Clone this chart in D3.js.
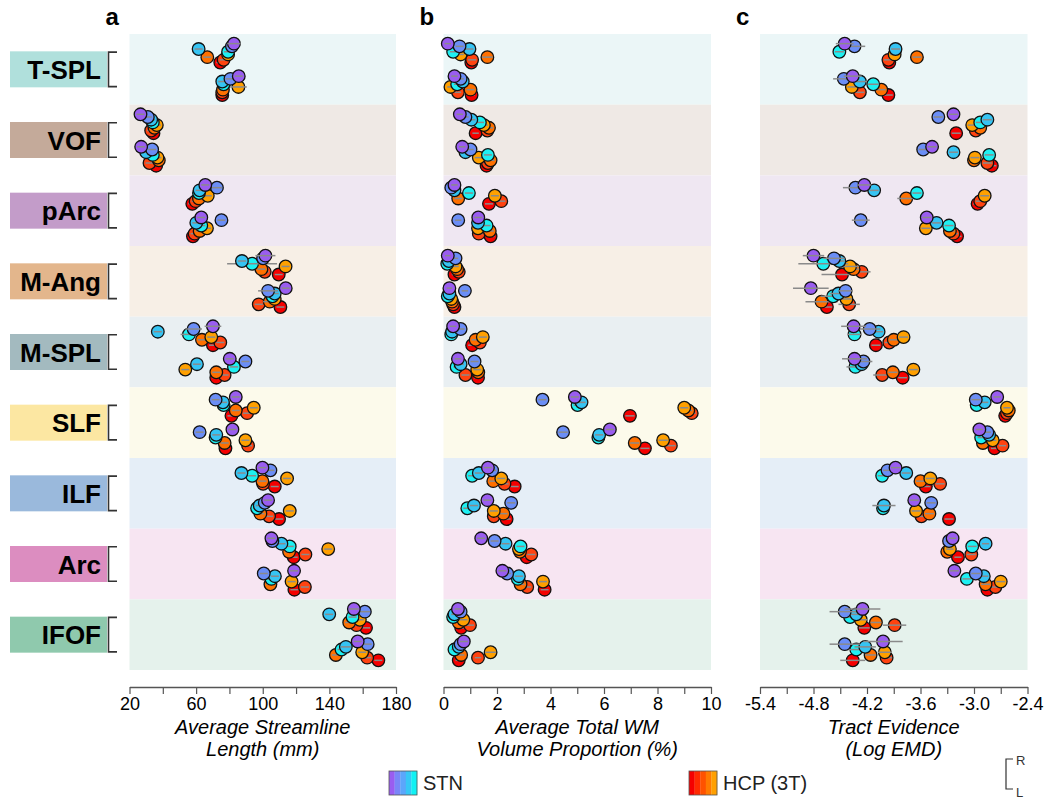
<!DOCTYPE html>
<html><head><meta charset="utf-8">
<script src="https://cdn.jsdelivr.net/npm/d3@7"></script>
<style>body{margin:0;background:#fff}svg{display:block}</style>
</head><body><svg id="chart" width="1044" height="801"></svg>
<script>
// ---------------- DATA ----------------
const tracts = ["T-SPL","VOF","pArc","M-Ang","M-SPL","SLF","ILF","Arc","IFOF"];
const subjects = ["STN-1","STN-2","STN-3","STN-4","HCP-1","HCP-2","HCP-3","HCP-4"];
const hemispheres = ["R","L"];

// a: Average streamline length (mm)
const lengthR = [
  [82.7,81.5,61.5,79.2,79.2,66.7,76.5,74.5],
  [26.6,31,33,34,36.4,35,33,34.4],
  [65.5,72.5,62.1,61.7,67,61.7,59.7,57.7],
  [101.6,100.2,87.5,93.6,113.7,99.2,101.2,109.6],
  [70.1,58.5,37,55.7,69.1,63.5,74.5,70.1],
  [83.8,71.7,76.1,76.5,94.6,83.8,90.6,81.2],
  [99.8,104.6,87.2,93.6,114.6,99.8,100.2,107.2],
  [105.2,105.8,111.2,116.2,139.3,115.8,125.6,118.6],
  [154.7,161.3,139.9,153.9,158.3,151.9,156.3,162]
];
const lengthL = [
  [85.6,80.6,75.7,76.5,85.4,76.1,75.7,75.7],
  [27,33.6,30,34,36.8,37.6,32,36],
  [63.1,75.2,60.1,63.1,66.5,62.1,59.1,58.1],
  [113.8,103.2,107.2,105.8,107.2,104.2,97.6,110.6],
  [80.2,89.6,60.5,82.7,53.5,72.1,77.1,72.1],
  [81.8,62.1,72.1,71.7,89.6,77.1,91.2,77.6],
  [103.2,101.2,98.2,96.6,116.2,98.6,103.8,109.8],
  [118.8,100.6,107.3,105.2,117.3,104.6,125.3,119],
  [157,163,149.9,147.3,159.7,143.9,162.7,169.4]
];
const lengthErrR = [
  [4,3,2.4,2.4,2.4,2.4,2.4,2.4],
  [2.4,2.4,2.4,2.4,2.4,2.4,2.4,2.4],
  [2.4,3,2.4,2.4,2.4,2.4,2.4,2.4],
  [6,2.4,2.4,15,2.4,2.4,2.4,2.4],
  [5,5,2.4,5,2.4,2.4,2.4,2.4],
  [2.4,2.4,2.4,2.4,2.4,2.4,2.4,2.4],
  [2.4,2.4,2.4,2.4,2.4,2.4,2.4,2.4],
  [2.4,2.4,2.4,2.4,2.4,2.4,2.4,2.4],
  [3,3,2.4,2.4,2.4,2.4,2.4,2.4]
];
const lengthErrL = [
  [2.4,3,2.4,2.4,5,2.4,2.4,2.4],
  [2.4,2.4,2.4,2.4,2.4,2.4,2.4,2.4],
  [2.4,2.4,2.4,2.4,2.4,2.4,2.4,2.4],
  [2.4,6,2.4,2.4,2.4,4,2.4,2.4],
  [2.4,2.4,2.4,2.4,2.4,2.4,2.4,2.4],
  [2.4,2.4,2.4,2.4,2.4,2.4,2.4,2.4],
  [2.4,2.4,2.4,2.4,2.4,2.4,2.4,2.4],
  [2.4,2.4,2.4,2.4,2.4,2.4,2.4,2.4],
  [2.4,2.4,3,2.4,2.4,2.4,2.4,2.4]
];

// b: Average total WM volume proportion (%)
const volumeR = [
  [0.16,0.6,0.97,0.36,0.64,1.64,1.07,1.04],
  [0.61,0.82,1.04,1.36,1.51,1.7,1.64,1.2],
  [0.41,0.29,0.41,0.95,1.92,0.55,2.16,1.7],
  [0.16,0.45,0.2,0.14,0.45,0.51,0.57,0.41],
  [0.36,0.64,0.32,0.29,1.47,1.2,1.36,1.07],
  [4.91,3.7,5.16,5.01,9.0,9.15,9.28,6.97],
  [1.66,1.82,1.32,1.07,2.16,1.86,2.28,2.66],
  [1.41,1.91,2.32,2.88,2.82,2.86,3.28,3.11],
  [0.54,0.64,0.41,0.36,0.74,0.57,0.99,0.66]
];
const volumeL = [
  [0.41,0.64,0.72,0.51,0.26,1.01,0.54,1.05],
  [0.7,1.01,0.82,1.66,1.32,1.76,1.66,1.61],
  [1.3,0.55,1.29,1.61,1.29,1.73,1.32,1.76],
  [0.22,0.8,0.22,0.16,0.29,0.32,0.36,0.41],
  [0.54,1.16,0.64,0.49,1.26,1.3,0.82,1.29],
  [6.22,4.47,5.82,5.79,8.21,7.15,8.5,7.53],
  [1.64,2.53,1.14,0.89,1.88,2.24,1.88,2.36],
  [2.2,2.38,2.82,2.78,3.72,2.88,3.13,3.78],
  [0.76,0.64,0.57,0.41,1.76,0.66,1.29,0.57]
];
const volumeErrR = [
  [0.12,0.15,0.15,0.12,0.12,0.2,0.15,0.12],
  [0.12,0.12,0.15,0.15,0.15,0.15,0.12,0.12],
  [0.12,0.12,0.12,0.15,0.15,0.15,0.15,0.15],
  [0.1,0.1,0.1,0.1,0.12,0.12,0.12,0.1],
  [0.12,0.15,0.12,0.12,0.15,0.15,0.15,0.15],
  [0.15,0.15,0.15,0.15,0.15,0.15,0.15,0.17],
  [0.15,0.15,0.15,0.15,0.15,0.15,0.15,0.15],
  [0.15,0.15,0.15,0.15,0.15,0.15,0.15,0.15],
  [0.12,0.12,0.12,0.12,0.15,0.12,0.15,0.12]
];
const volumeErrL = [
  [0.12,0.12,0.15,0.12,0.12,0.15,0.12,0.12],
  [0.12,0.12,0.12,0.15,0.15,0.15,0.15,0.12],
  [0.15,0.12,0.15,0.15,0.15,0.15,0.15,0.15],
  [0.1,0.12,0.1,0.1,0.1,0.1,0.1,0.1],
  [0.12,0.15,0.12,0.12,0.15,0.15,0.15,0.15],
  [0.15,0.17,0.15,0.17,0.17,0.17,0.17,0.17],
  [0.15,0.15,0.15,0.15,0.15,0.15,0.15,0.15],
  [0.15,0.15,0.15,0.15,0.15,0.15,0.15,0.15],
  [0.15,0.12,0.12,0.12,0.2,0.12,0.12,0.12]
];

// c: Tract evidence (log EMD)
const evidenceR = [
  [-4.45,-4.34,-3.88,-4.51,-3.89,-3.64,-3.96,-3.95],
  [-3.23,-3.4,-2.85,-2.93,-3.02,-2.93,-2.98,-3.2],
  [-4.23,-4.33,-4.12,-3.64,-2.88,-3.76,-2.93,-2.96],
  [-4.8,-4.57,-4.51,-4.69,-4.39,-4.35,-4.26,-4.48],
  [-4.35,-4.17,-4.07,-4.34,-3.79,-3.9,-3.95,-4.1],
  [-2.74,-2.98,-2.88,-2.97,-2.63,-2.61,-2.63,-2.65],
  [-3.88,-3.97,-3.76,-4.03,-3.49,-3.6,-3.38,-3.54],
  [-3.24,-3.28,-2.87,-3.02,-3.27,-3.3,-3.03,-3.18],
  [-4.25,-4.45,-4.32,-4.39,-4.27,-4.1,-3.89,-4.23]
];
const evidenceL = [
  [-4.36,-4.46,-4.28,-4.13,-4.37,-4.04,-4.28,-3.96],
  [-3.47,-3.57,-3.23,-2.83,-2.99,-3.0,-2.85,-2.8],
  [-3.53,-4.27,-3.42,-3.28,-3.54,-3.27,-3.23,-3.19],
  [-4.83,-4.44,-4.52,-4.58,-4.43,-4.71,-4.4,-4.65],
  [-4.34,-4.24,-4.26,-4.33,-3.68,-3.91,-4.03,-3.8],
  [-2.94,-2.85,-2.83,-2.92,-2.79,-2.9,-2.68,-2.77],
  [-3.67,-3.48,-4.01,-4.02,-3.65,-3.5,-3.59,-3.28],
  [-3.22,-2.98,-2.89,-3.08,-2.7,-2.87,-2.76,-2.85],
  [-4.02,-4.45,-4.22,-4.32,-4.0,-4.16,-3.98,-4.36]
];
const evidenceErrR = [
  [0.1,0.12,0.05,0.05,0.05,0.05,0.05,0.05],
  [0.05,0.05,0.05,0.05,0.05,0.05,0.05,0.05],
  [0.08,0.14,0.05,0.05,0.05,0.1,0.05,0.05],
  [0.12,0.12,0.06,0.28,0.1,0.06,0.1,0.23],
  [0.14,0.12,0.05,0.08,0.05,0.05,0.05,0.05],
  [0.04,0.05,0.04,0.04,0.04,0.04,0.04,0.04],
  [0.05,0.05,0.05,0.05,0.05,0.05,0.05,0.05],
  [0.04,0.04,0.04,0.05,0.04,0.04,0.05,0.04],
  [0.2,0.17,0.12,0.1,0.08,0.06,0.13,0.06]
];
const evidenceErrL = [
  [0.1,0.12,0.08,0.06,0.05,0.05,0.05,0.05],
  [0.05,0.05,0.05,0.05,0.05,0.05,0.05,0.05],
  [0.05,0.1,0.05,0.05,0.05,0.05,0.05,0.05],
  [0.2,0.08,0.1,0.14,0.06,0.18,0.12,0.06],
  [0.14,0.1,0.06,0.1,0.05,0.05,0.1,0.05],
  [0.04,0.04,0.04,0.04,0.04,0.04,0.04,0.04],
  [0.05,0.05,0.13,0.05,0.05,0.05,0.05,0.05],
  [0.05,0.05,0.05,0.05,0.05,0.05,0.05,0.05],
  [0.22,0.17,0.12,0.14,0.08,0.06,0.06,0.14]
];

const tickValuesA = [20,40,60,80,100,120,140,160,180];
const tickLabelsA = [20,60,100,140,180];
const tickValuesB = [0,1,2,3,4,5,6,7,8,9,10];
const tickLabelsB = [0,2,4,6,8,10];
const tickValuesC = [-5.4,-5.1,-4.8,-4.5,-4.2,-3.9,-3.6,-3.3,-3.0,-2.7,-2.4];
const tickLabelsC = [-5.4,-4.8,-4.2,-3.6,-3.0,-2.4];
const legendGroups = ["STN","HCP (3T)"];

// ---------------- STYLE ----------------
const subjectColors = ["#9a5df0","#6b8ef6","#36c4f3","#1ef0f2","#ffa000","#ff7000","#ff4310","#f50000"];
const stnSwatch = ["#9a5df0","#7a86f8","#5ca6fb","#36c8f6","#10f2f4"];
const hcpSwatch = ["#f50000","#ff2a00","#ff5200","#ff7a00","#ffa000"];
const labelColors = ["#b0e0dc","#c4aa9a","#c39cc9","#e3b68c","#a3babf","#fce7a2","#9ab9dc","#dc8dc0","#8fc9ad"];
const bandColors  = ["#ebf6f7","#efe9e5","#efe7f2","#f7efe6","#e9eff2","#fcfaeb","#e5eef7","#f7e5f2","#e5f2ec"];
const FONT = "'Liberation Sans',Arial,sans-serif";
const BOLD = "'Liberation Sans',Arial,sans-serif";

const svg = d3.select("#chart");
const yBand = d3.scaleBand().domain(tracts).range([34, 670]).padding(0);
const hemiPos = d3.scalePoint().domain(hemispheres).range([0.27, 0.73]);
const subjOff = d3.scaleLinear().domain([0, subjects.length - 1]).range([-9.45, 9.45]);
const hyphen = f => d => f(d).replace("\u2212", "-");

const panels = [
  {letter:"a", domain:[20,180], range:[129.5,396], R:lengthR, L:lengthL, eR:lengthErrR, eL:lengthErrL,
   ticks:tickValuesA, labels:tickLabelsA, fmt:hyphen(d3.format("d")), title:["Average Streamline","Length (mm)"]},
  {letter:"b", domain:[0,10], range:[443.5,711], R:volumeR, L:volumeL, eR:volumeErrR, eL:volumeErrL,
   ticks:tickValuesB, labels:tickLabelsB, fmt:hyphen(d3.format("d")), title:["Average Total WM","Volume Proportion (%)"]},
  {letter:"c", domain:[-5.4,-2.4], range:[760,1027.5], R:evidenceR, L:evidenceL, eR:evidenceErrR, eL:evidenceErrL,
   ticks:tickValuesC, labels:tickLabelsC, fmt:hyphen(d3.format(".1f")), title:["Tract Evidence","(Log EMD)"]}
];

// row labels
tracts.forEach((t, i) => {
  const cy = yBand(t) + yBand.bandwidth() / 2;
  svg.append("rect").attr("x", 10).attr("y", cy - 18).attr("width", 97).attr("height", 36).attr("fill", labelColors[i]);
  svg.append("text").attr("x", 101).attr("y", cy + 9.5).attr("text-anchor", "end")
    .attr("font-family", BOLD).attr("font-weight", "bold").attr("font-size", 26).attr("fill", "#000").text(t);
  const y1 = yBand(t) + hemiPos("R") * yBand.bandwidth() - 1;
  const y2 = yBand(t) + hemiPos("L") * yBand.bandwidth() + 1;
  svg.append("path").attr("d", `M117,${y1}H108.5V${y2}H117`).attr("fill", "none").attr("stroke", "#333").attr("stroke-width", 1.6);
});

panels.forEach(p => {
  const x = d3.scaleLinear().domain(p.domain).range(p.range);
  const g = svg.append("g");
  tracts.forEach((t, i) => {
    g.append("rect").attr("x", p.range[0]).attr("y", yBand(t)).attr("width", p.range[1] - p.range[0])
      .attr("height", yBand.bandwidth()).attr("fill", bandColors[i]);
  });
  g.append("text").attr("x", p.range[0] - 24).attr("y", 25).attr("font-family", BOLD).attr("font-weight", "bold")
    .attr("font-size", 24).text(p.letter);

  const pts = [];
  tracts.forEach((t, ti) => {
    hemispheres.forEach(h => {
      const vals = h === "R" ? p.R[ti] : p.L[ti];
      const errs = h === "R" ? p.eR[ti] : p.eL[ti];
      vals.forEach((v, si) => {
        pts.push({v, e: errs[si], si, y: yBand(t) + hemiPos(h) * yBand.bandwidth() + subjOff(si)});
      });
    });
  });
  const ordered = pts.slice().sort((a, b) => b.si - a.si);
  const dots = g.append("g");
  ordered.forEach(d => {
    dots.append("circle").attr("cx", x(d.v)).attr("cy", d.y).attr("r", 6.3)
      .attr("fill", subjectColors[d.si]).attr("stroke", "#111").attr("stroke-width", 1.3);
    dots.append("line").attr("x1", x(d.v - d.e)).attr("x2", x(d.v + d.e)).attr("y1", d.y).attr("y2", d.y)
      .attr("stroke", "#8a8a8a").attr("stroke-width", 1.5);
  });

  const axis = d3.axisBottom(x).tickValues(p.ticks).tickSize(7).tickSizeOuter(0)
    .tickFormat(d => p.labels.some(l => Math.abs(l - d) < 1e-9) ? p.fmt(d) : "");
  const ag = svg.append("g").attr("transform", "translate(0,687)").call(axis);
  ag.select(".domain").attr("stroke", "#555").attr("stroke-width", 1.5);
  ag.selectAll(".tick line").attr("stroke", "#555").attr("stroke-width", 1.2);
  ag.selectAll(".tick text").attr("font-family", FONT).attr("font-size", 18).attr("fill", "#000").attr("dy", "0.71em");
  const cx = (p.range[0] + p.range[1]) / 2;
  p.title.forEach((line, li) => {
    svg.append("text").attr("x", cx).attr("y", 734 + li * 22).attr("text-anchor", "middle")
      .attr("font-family", FONT).attr("font-style", "italic").attr("font-size", 20).text(line);
  });
});

// legend
const legX = [389, 689];
legendGroups.forEach((name, gi) => {
  const cols = gi === 0 ? stnSwatch : hcpSwatch;
  const w = 28 / cols.length;
  cols.forEach((c, k) => {
    svg.append("rect").attr("x", legX[gi] + k * w).attr("y", 771).attr("width", w + 0.2).attr("height", 24).attr("fill", c);
  });
  svg.append("rect").attr("x", legX[gi]).attr("y", 771).attr("width", 28).attr("height", 24)
    .attr("fill", "none").attr("stroke", "#555").attr("stroke-width", 0.8);
  svg.append("text").attr("x", legX[gi] + 34).attr("y", 790).attr("font-family", FONT).attr("font-size", 20)
    .attr("fill", "#222").text(name);
});
// R/L bracket key
svg.append("path").attr("d", "M1013,759H1006V789H1013").attr("fill", "none").attr("stroke", "#333").attr("stroke-width", 1.2);
svg.append("text").attr("x", 1016).attr("y", 765).attr("font-family", FONT).attr("font-size", 13).attr("fill", "#333").text("R");
svg.append("text").attr("x", 1016).attr("y", 797).attr("font-family", FONT).attr("font-size", 13).attr("fill", "#333").text("L");
</script></body></html>
